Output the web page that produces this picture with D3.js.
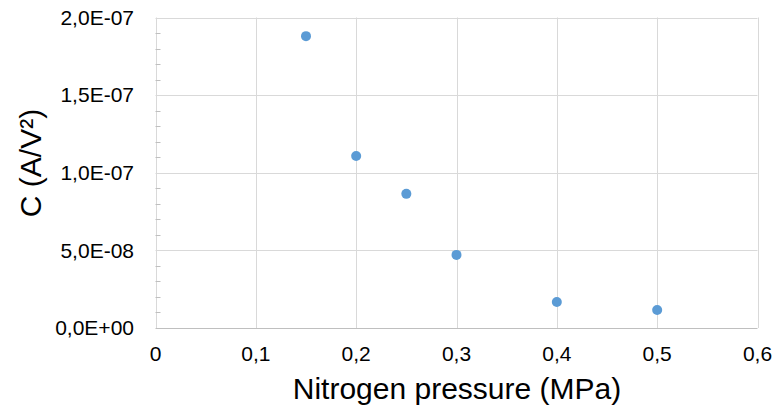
<!DOCTYPE html>
<html><head><meta charset="utf-8">
<script src="https://cdn.jsdelivr.net/npm/d3@7/dist/d3.min.js"></script>
<style>body{margin:0;background:#fff;}svg{display:block;font-family:"Liberation Sans",Arial,sans-serif;}</style>
</head><body>
<script>
const pressure = [0.15, 0.2, 0.25, 0.3, 0.4, 0.5];
const cValues = [1.88e-7, 1.108e-7, 0.864e-7, 4.71e-8, 1.67e-8, 1.16e-8];
const xTicks = [0, 0.1, 0.2, 0.3, 0.4, 0.5, 0.6];
const yTicks = [0, 5e-8, 1e-7, 1.5e-7, 2e-7];
const yTickLabels = ["0,0E+00", "5,0E-08", "1,0E-07", "1,5E-07", "2,0E-07"];
const xTickLabels = ["0", "0,1", "0,2", "0,3", "0,4", "0,5", "0,6"];

const W = 776, H = 407;
const svg = d3.select("body").append("svg").attr("width", W).attr("height", H);
const x = d3.scaleLinear().domain([0, 0.6]).range([155.5, 757.5]);
const y = d3.scaleLinear().domain([0, 2e-7]).range([328, 17.5]);

// gridlines
svg.append("g").selectAll("line").data(xTicks).join("line")
  .attr("x1", d => Math.round(x(d)) + 0.5).attr("x2", d => Math.round(x(d)) + 0.5)
  .attr("y1", y(2e-7)).attr("y2", y(0))
  .attr("stroke", "#d9d9d9").attr("stroke-width", 1);
svg.append("g").selectAll("line").data(yTicks.slice(1)).join("line")
  .attr("x1", x(0)).attr("x2", x(0.6))
  .attr("y1", d => Math.round(y(d)) + 0.5).attr("y2", d => Math.round(y(d)) + 0.5)
  .attr("stroke", "#d9d9d9").attr("stroke-width", 1);

// minor ticks on y axis
const minor = d3.range(0, 2e-7 + 1e-12, 1e-8).filter((d, i) => i % 5 !== 0);
svg.append("g").selectAll("line").data(minor).join("line")
  .attr("x1", x(0)).attr("x2", x(0) + 5)
  .attr("y1", d => Math.round(y(d)) + 0.5).attr("y2", d => Math.round(y(d)) + 0.5)
  .attr("stroke", "#bfbfbf").attr("stroke-width", 1);

// bottom axis line
svg.append("line").attr("x1", x(0)).attr("x2", x(0.6))
  .attr("y1", Math.round(y(0)) + 0.5).attr("y2", Math.round(y(0)) + 0.5)
  .attr("stroke", "#bfbfbf").attr("stroke-width", 1.2);

// tick labels
svg.append("g").selectAll("text").data(yTicks).join("text")
  .attr("x", 134).attr("y", d => y(d)).attr("dy", "0.35em")
  .attr("text-anchor", "end").attr("font-size", 21).attr("fill", "#000")
  .text((d, i) => yTickLabels[i]);
svg.append("g").selectAll("text").data(xTicks).join("text")
  .attr("x", d => x(d)).attr("y", 354).attr("dy", "0.35em")
  .attr("text-anchor", "middle").attr("font-size", 21).attr("fill", "#000")
  .text((d, i) => xTickLabels[i]);

// axis titles
svg.append("text").attr("x", 457).attr("y", 399)
  .attr("text-anchor", "middle").attr("font-size", 30).attr("fill", "#000")
  .text("Nitrogen pressure (MPa)");
svg.append("text").attr("transform", "translate(30,163) rotate(-90)").attr("dy", "0.35em")
  .attr("text-anchor", "middle").attr("font-size", 30).attr("fill", "#000")
  .text("C (A/V²)");

// points
svg.append("g").selectAll("circle").data(pressure).join("circle")
  .attr("cx", d => x(d)).attr("cy", (d, i) => y(cValues[i])).attr("r", 5)
  .attr("fill", "#5B9BD5");
</script>
</body></html>
